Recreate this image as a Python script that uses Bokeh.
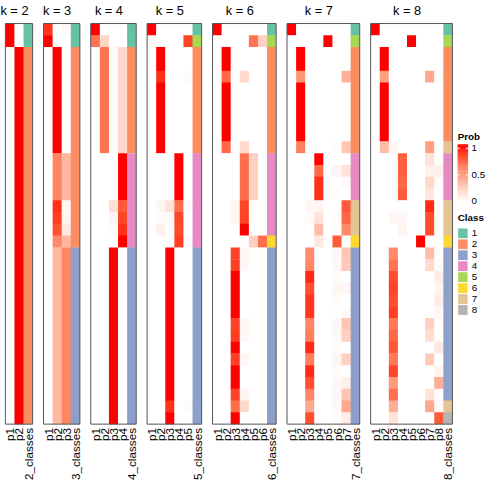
import math
from bokeh.plotting import figure
from bokeh.models import Range1d
from bokeh.embed import file_html
from bokeh.resources import INLINE
from bokeh.core.properties import value

# ---------------- data ----------------
ks = [2, 3, 4, 5, 6, 7, 8]
class_ids = [1, 2, 3, 4, 5, 6, 7, 8]
class_colors = ["#66C2A5", "#FC8D62", "#8DA0CB", "#E78AC3",
                "#A6D854", "#FFD92F", "#E5C494", "#B3B3B3"]
prob_breaks = [0, 0.5, 1]
prob_break_labels = ["0", "0.5", "1"]

prob_k2 = [
    [1, 0], [1, 0],
    [0, 1], [0, 1], [0, 1], [0, 1], [0, 1], [0, 1], [0, 1], [0, 1],
    [0, 1], [0, 1], [0, 1], [0, 1], [0, 1], [0, 1], [0, 1], [0, 1],
    [0, 1], [0, 1], [0, 1], [0, 1], [0, 1], [0, 1], [0, 1], [0, 1],
    [0, 1], [0, 1], [0, 1], [0, 1], [0, 1], [0, 1], [0, 1], [0, 1],
]
class_k2 = [1, 1] + [2] * 32

prob_k3 = [
    [0.92, 0, 0.03], [1, 0, 0],
    [0, 1, 0], [0, 1, 0], [0, 1, 0], [0, 1, 0], [0, 1, 0], [0, 1, 0],
    [0, 1, 0], [0, 1, 0], [0, 1, 0],
    [0, 0.62, 0.38], [0, 0.62, 0.38], [0, 0.62, 0.38], [0, 0.62, 0.38],
    [0, 0.93, 0.04], [0, 0.9, 0.06], [0, 0.84, 0.12], [0, 0.6, 0.38],
    [0, 0.36, 0.62], [0, 0.36, 0.62], [0, 0.36, 0.62], [0, 0.36, 0.62],
    [0, 0.36, 0.62], [0, 0.36, 0.62], [0, 0.36, 0.62], [0, 0.36, 0.62],
    [0, 0.36, 0.62], [0, 0.36, 0.62], [0, 0.36, 0.62], [0, 0.36, 0.62],
    [0, 0.36, 0.62], [0, 0.36, 0.62], [0, 0.36, 0.62],
]
class_k3 = [1, 1] + [2] * 17 + [3] * 15

prob_k4 = [
    [1, 0, 0, 0], [0.7, 0.22, 0, 0],
    [0, 0.7, 0.03, 0.2], [0, 0.7, 0.03, 0.2], [0, 0.7, 0.03, 0.2],
    [0, 0.7, 0.03, 0.2], [0, 0.7, 0.03, 0.2], [0, 0.7, 0.03, 0.2],
    [0, 0.7, 0.03, 0.2], [0, 0.7, 0.03, 0.2], [0, 0.7, 0.03, 0.2],
    [0, 0, 0, 1], [0, 0, 0, 1], [0, 0, 0, 1], [0, 0, 0, 1],
    [0, 0, 0.17, 0.8], [0, 0, 0.05, 0.88], [0, 0, 0.02, 0.93], [0, 0, 0, 1],
    [0, 0, 1, 0], [0, 0, 1, 0], [0, 0, 1, 0], [0, 0, 1, 0], [0, 0, 1, 0],
    [0, 0, 1, 0], [0, 0, 1, 0], [0, 0, 1, 0], [0, 0, 1, 0], [0, 0, 1, 0],
    [0, 0, 1, 0], [0, 0, 1, 0], [0, 0, 1, 0], [0, 0, 1, 0], [0, 0, 1, 0],
]
class_k4 = [1, 1] + [2] * 9 + [4] * 8 + [3] * 15

prob_k5 = [
    [1, 0, 0, 0, 0], [0.04, 0, 0, 0, 0.88],
    [0, 1, 0, 0, 0], [0, 1, 0, 0, 0], [0, 0.94, 0, 0, 0.02],
    [0, 1, 0, 0, 0], [0, 1, 0, 0, 0], [0, 1, 0, 0, 0], [0, 1, 0, 0, 0],
    [0, 1, 0, 0, 0], [0, 1, 0, 0, 0],
    [0, 0, 0, 1, 0], [0, 0, 0, 1, 0], [0, 0, 0, 1, 0], [0, 0, 0, 1, 0],
    [0, 0.04, 0.15, 0.72, 0.02], [0, 0.03, 0.03, 0.87, 0],
    [0, 0.08, 0, 0.86, 0], [0, 0, 0, 0.9, 0.02],
    [0, 0, 1, 0, 0], [0, 0, 1, 0, 0], [0, 0, 1, 0, 0], [0, 0, 1, 0, 0],
    [0, 0, 1, 0, 0], [0, 0, 1, 0, 0], [0, 0, 1, 0, 0], [0, 0, 1, 0, 0],
    [0, 0, 1, 0, 0], [0, 0, 1, 0, 0], [0, 0, 1, 0, 0], [0, 0, 1, 0, 0],
    [0, 0, 1, 0, 0], [0, 0, 0.93, 0, 0.02], [0, 0, 1, 0, 0],
]
class_k5 = [1, 5] + [2] * 9 + [4] * 8 + [3] * 15

prob_k6 = [
    [1, 0, 0, 0, 0, 0], [0, 0, 0, 0, 0.7, 0.25],
    [0, 1, 0, 0, 0, 0], [0, 1, 0, 0, 0, 0], [0, 0.75, 0, 0.2, 0, 0],
    [0, 1, 0, 0, 0, 0], [0, 1, 0, 0, 0, 0], [0, 1, 0, 0, 0, 0],
    [0, 1, 0, 0, 0, 0], [0, 1, 0, 0, 0, 0], [0, 0.75, 0, 0.2, 0, 0],
    [0, 0, 0, 0.72, 0.25, 0], [0, 0, 0, 0.72, 0.25, 0],
    [0, 0, 0, 0.72, 0.25, 0], [0, 0, 0, 0.72, 0.25, 0],
    [0, 0, 0.06, 0.88, 0, 0], [0, 0, 0.06, 0.88, 0, 0], [0, 0, 0, 1, 0, 0],
    [0, 0, 0, 0, 0.25, 0.72],
    [0, 0, 0.88, 0.05, 0, 0], [0, 0, 0.9, 0.04, 0, 0], [0, 0, 1, 0, 0, 0],
    [0, 0, 1, 0, 0, 0], [0, 0, 1, 0, 0, 0], [0, 0, 1, 0, 0, 0],
    [0, 0, 0.88, 0.05, 0, 0], [0, 0, 0.9, 0.04, 0, 0], [0, 0, 1, 0, 0, 0],
    [0, 0, 0.9, 0.05, 0, 0], [0, 0, 1, 0, 0, 0], [0, 0, 1, 0, 0, 0],
    [0, 0, 0.88, 0.06, 0, 0], [0, 0, 0.72, 0.2, 0, 0], [0, 0, 1, 0, 0, 0],
]
class_k6 = [1, 5] + [2] * 9 + [4] * 7 + [6] + [3] * 15

prob_k7 = [
    [1, 0, 0, 0, 0, 0, 0], [0, 0, 0, 0, 1, 0, 0],
    [0, 1, 0, 0, 0, 0, 0], [0, 1, 0, 0, 0, 0, 0], [0, 0.55, 0, 0, 0, 0, 0.4],
    [0, 1, 0, 0, 0, 0, 0], [0, 1, 0, 0, 0, 0, 0], [0, 1, 0, 0, 0, 0, 0],
    [0, 1, 0, 0, 0, 0, 0], [0, 1, 0, 0, 0, 0, 0],
    [0, 0.65, 0.01, 0, 0, 0.01, 0.3],
    [0, 0, 0, 1, 0, 0, 0], [0, 0, 0, 0.75, 0, 0.05, 0.15],
    [0, 0, 0, 0.93, 0, 0, 0.03], [0, 0, 0, 0.93, 0, 0.01, 0],
    [0, 0, 0.05, 0.05, 0, 0, 0.8], [0, 0, 0.03, 0.15, 0, 0.02, 0.75],
    [0, 0, 0, 0.35, 0, 0.02, 0.6], [0, 0, 0, 0.12, 0, 0.8, 0],
    [0, 0, 0.6, 0, 0, 0.04, 0.3], [0, 0, 0.62, 0, 0, 0.04, 0.28],
    [0, 0, 0.95, 0, 0, 0.02, 0], [0, 0, 0.85, 0, 0, 0.05, 0.05],
    [0, 0, 0.92, 0, 0, 0.02, 0], [0, 0, 0.92, 0, 0, 0, 0.03],
    [0, 0, 0.62, 0, 0, 0.04, 0.3], [0, 0, 0.65, 0, 0, 0.04, 0.25],
    [0, 0, 0.95, 0, 0, 0.02, 0], [0, 0, 0.65, 0, 0, 0.06, 0.25],
    [0, 0, 0.95, 0, 0, 0.02, 0], [0, 0, 0.85, 0, 0, 0.04, 0.08],
    [0, 0, 0.62, 0, 0, 0.04, 0.3], [0, 0, 0.45, 0, 0, 0.04, 0.45],
    [0, 0, 0.85, 0, 0, 0.02, 0.1],
]
class_k7 = [1, 5] + [2] * 9 + [4] * 4 + [7] * 3 + [6] + [3] * 15

prob_k8 = [
    [1, 0, 0, 0, 0, 0, 0, 0], [0, 0, 0, 0, 1, 0, 0, 0],
    [0, 1, 0, 0, 0, 0, 0, 0], [0, 1, 0, 0, 0, 0, 0, 0],
    [0, 0.5, 0, 0, 0, 0, 0.45, 0.01],
    [0, 1, 0, 0, 0, 0, 0, 0], [0, 1, 0, 0, 0, 0, 0, 0],
    [0, 1, 0, 0, 0, 0, 0, 0], [0, 1, 0, 0, 0, 0, 0, 0],
    [0, 1, 0, 0, 0, 0, 0, 0],
    [0, 0.35, 0.05, 0, 0, 0, 0.5, 0.01],
    [0, 0, 0, 0.78, 0, 0, 0.15, 0], [0, 0, 0, 0.78, 0, 0, 0.08, 0.08],
    [0, 0, 0, 0.75, 0, 0, 0.2, 0.02], [0, 0, 0, 0.8, 0, 0, 0.12, 0],
    [0, 0, 0, 0, 0, 0, 0.95, 0.01], [0, 0, 0.04, 0.04, 0, 0, 0.85, 0.01],
    [0, 0, 0, 0.06, 0, 0, 0.85, 0.01], [0, 0, 0, 0, 0, 1, 0, 0],
    [0, 0, 0.6, 0, 0, 0, 0.35, 0.02], [0, 0, 0.7, 0, 0, 0, 0.2, 0.02],
    [0, 0, 0.85, 0, 0, 0, 0, 0.1], [0, 0, 0.88, 0, 0, 0, 0, 0.06],
    [0, 0, 0.85, 0, 0, 0, 0, 0.1], [0, 0, 0.9, 0, 0, 0, 0, 0.04],
    [0, 0, 0.68, 0, 0, 0, 0.25, 0.02], [0, 0, 0.75, 0, 0, 0, 0.18, 0.01],
    [0, 0, 0.82, 0, 0, 0, 0, 0.12], [0, 0, 0.68, 0, 0, 0, 0.28, 0],
    [0, 0, 0.88, 0, 0, 0, 0, 0.06], [0, 0, 0.52, 0, 0, 0, 0, 0.42],
    [0, 0, 0.72, 0, 0, 0, 0.15, 0.02], [0, 0, 0.42, 0, 0, 0, 0.45, 0.03],
    [0, 0, 0.15, 0, 0, 0, 0, 0.8],
]
class_k8 = [1, 5] + [2] * 8 + [7] + [4] * 4 + [7] * 3 + [6] + [3] * 13 + [7, 8]

probs = {2: prob_k2, 3: prob_k3, 4: prob_k4, 5: prob_k5, 6: prob_k6, 7: prob_k7, 8: prob_k8}
classes = {2: class_k2, 3: class_k3, 4: class_k4, 5: class_k5, 6: class_k6, 7: class_k7, 8: class_k8}

# ---------------- colour ramp (white -> red in LAB) ----------------
def _lin(c):
    c = c / 255.0
    return c / 12.92 if c <= 0.04045 else ((c + 0.055) / 1.055) ** 2.4

def _gam(c):
    c = max(0.0, min(1.0, c))
    return 12.92 * c if c <= 0.0031308 else 1.055 * c ** (1 / 2.4) - 0.055

XN, YN, ZN = 0.95047, 1.0, 1.08883

def rgb2lab(rgb):
    r, g, b = [_lin(v) for v in rgb]
    X = 0.4124 * r + 0.3576 * g + 0.1805 * b
    Y = 0.2126 * r + 0.7152 * g + 0.0722 * b
    Z = 0.0193 * r + 0.1192 * g + 0.9505 * b
    def f(t):
        return t ** (1 / 3) if t > 0.008856 else 7.787 * t + 16 / 116
    fx, fy, fz = f(X / XN), f(Y / YN), f(Z / ZN)
    return (116 * fy - 16, 500 * (fx - fy), 200 * (fy - fz))

def lab2hex(lab):
    L, a, bb = lab
    fy = (L + 16) / 116
    fx = fy + a / 500
    fz = fy - bb / 200
    def finv(t):
        return t ** 3 if t ** 3 > 0.008856 else (t - 16 / 116) / 7.787
    X, Y, Z = XN * finv(fx), YN * finv(fy), ZN * finv(fz)
    r = 3.2406 * X - 1.5372 * Y - 0.4986 * Z
    g = -0.9689 * X + 1.8758 * Y + 0.0415 * Z
    b = 0.0557 * X - 0.2040 * Y + 1.0570 * Z
    return "#%02x%02x%02x" % tuple(int(round(_gam(v) * 255)) for v in (r, g, b))

LAB_W = rgb2lab((255, 255, 255))
LAB_R = rgb2lab((255, 0, 0))

def prob_color(v):
    v = max(0.0, min(1.0, v))
    return lab2hex(tuple(LAB_W[i] + (LAB_R[i] - LAB_W[i]) * v for i in range(3)))

# ---------------- layout (reference pixel space) ----------------
X0, CW, GAP = 5.0, 9.35, 11.2
TOP, RH = 23.7, 12.12
OV = 0.45  # small overlap to avoid anti-aliasing seams
NROW = len(class_k2)
FONT = value("Liberation Sans")

p = figure(width=488, height=488, x_range=Range1d(0, 502), y_range=Range1d(502, 0),
           output_backend="svg", toolbar_location=None, min_border=0,
           x_axis_location=None, y_axis_location=None)
p.grid.visible = False
p.outline_line_color = None
p.background_fill_color = "white"

L, R, T, B, C = [], [], [], [], []
bl, br, bt, bb = [], [], [], []
lx, ly, lt = [], [], []
tx, tt = [], []
left = X0
for k in ks:
    pm = probs[k]
    cl = classes[k]
    for j in range(k + 1):
        if j < k:
            col = [prob_color(pm[i][j]) for i in range(NROW)]
        else:
            col = [class_colors[class_ids.index(cl[i])] for i in range(NROW)]
        # merge runs of identical colour in this column into one cell block
        i = 0
        while i < NROW:
            e = i
            while e + 1 < NROW and col[e + 1] == col[i]:
                e += 1
            L.append(left + j * CW)
            R.append(left + (j + 1) * CW + (OV if j < k else 0))
            T.append(TOP + i * RH)
            B.append(TOP + (e + 1) * RH + (OV if e < NROW - 1 else 0))
            C.append(col[i])
            i = e + 1
    bl.append(left); br.append(left + (k + 1) * CW)
    bt.append(TOP); bb.append(TOP + NROW * RH)
    for j in range(k + 1):
        lx.append(left + (j + 0.5) * CW)
        ly.append(TOP + NROW * RH + 4.0)
        lt.append("p%d" % (j + 1) if j < k else "%d_classes" % k)
    tx.append(left + k * CW / 2.0)
    tt.append("k = %d" % k)
    left += (k + 1) * CW + GAP

p.quad(left=L, right=R, top=T, bottom=B, fill_color=C, line_color=None)
p.quad(left=bl, right=br, top=bt, bottom=bb, fill_color=None,
       line_color="#555555", line_width=1)
p.text(x=lx, y=ly, text=lt, angle=math.pi / 2, text_align="right",
       text_baseline="middle", text_font=FONT, text_font_size="11.7px",
       text_color="black")
p.text(x=tx, y=[10.5] * len(tx), text=tt, text_align="center",
       text_baseline="middle", text_font=FONT, text_font_size="12.8px",
       text_color="black")

# ---------------- legends ----------------
LGX = 470.3
LGW = 10.7
BAR_TOP, BAR_BOT = 148.0, 207.0
Y_V1, Y_V0 = 152.0, 206.7
nsl = 60
gl, gr, gt, gb, gc = [], [], [], [], []
for s in range(nsl):
    ya = BAR_TOP + (BAR_BOT - BAR_TOP) * s / nsl
    yb = BAR_TOP + (BAR_BOT - BAR_TOP) * (s + 1) / nsl
    v = (Y_V0 - (ya + yb) / 2) / (Y_V0 - Y_V1)
    gl.append(LGX); gr.append(LGX + LGW); gt.append(ya)
    gb.append(yb + (OV if s < nsl - 1 else 0))
    gc.append(prob_color(v))
p.quad(left=gl, right=gr, top=gt, bottom=gb, fill_color=gc, line_color=None)

bys = [Y_V0 - (Y_V0 - Y_V1) * b for b in prob_breaks]
tick_y = [y for b, y in zip(prob_breaks, bys) if b > 0]
p.segment(x0=[LGX] * len(tick_y), y0=tick_y, x1=[LGX + 2.2] * len(tick_y), y1=tick_y,
          line_color="white", line_width=1)
p.segment(x0=[LGX + LGW - 2.2] * len(tick_y), y0=tick_y, x1=[LGX + LGW] * len(tick_y),
          y1=tick_y, line_color="white", line_width=1)
p.text(x=[LGX + 14.2] * len(bys), y=bys, text=prob_break_labels, text_align="left",
       text_baseline="middle", text_font=FONT, text_font_size="9.8px", text_color="black")
p.text(x=[LGX], y=[140.0], text=["Prob"], text_align="left", text_baseline="middle",
       text_font=FONT, text_font_size="9.8px", text_font_style="bold", text_color="black")

p.text(x=[LGX], y=[223.3], text=["Class"], text_align="left", text_baseline="middle",
       text_font=FONT, text_font_size="9.8px", text_font_style="bold", text_color="black")
SW_TOP, SW_H = 234.0, 11.25
sl = [LGX] * len(class_ids)
sr = [LGX + LGW] * len(class_ids)
st = [SW_TOP + i * SW_H for i in range(len(class_ids))]
sb = [SW_TOP + (i + 1) * SW_H for i in range(len(class_ids))]
p.quad(left=sl, right=sr, top=st, bottom=sb, fill_color=class_colors,
       line_color="white", line_width=1)
p.text(x=[LGX + 14.5] * len(class_ids), y=[(a + b) / 2 for a, b in zip(st, sb)],
       text=[str(c) for c in class_ids], text_align="left", text_baseline="middle",
       text_font=FONT, text_font_size="9.8px", text_color="black")

open("out.html", "w").write(file_html(p, INLINE))
